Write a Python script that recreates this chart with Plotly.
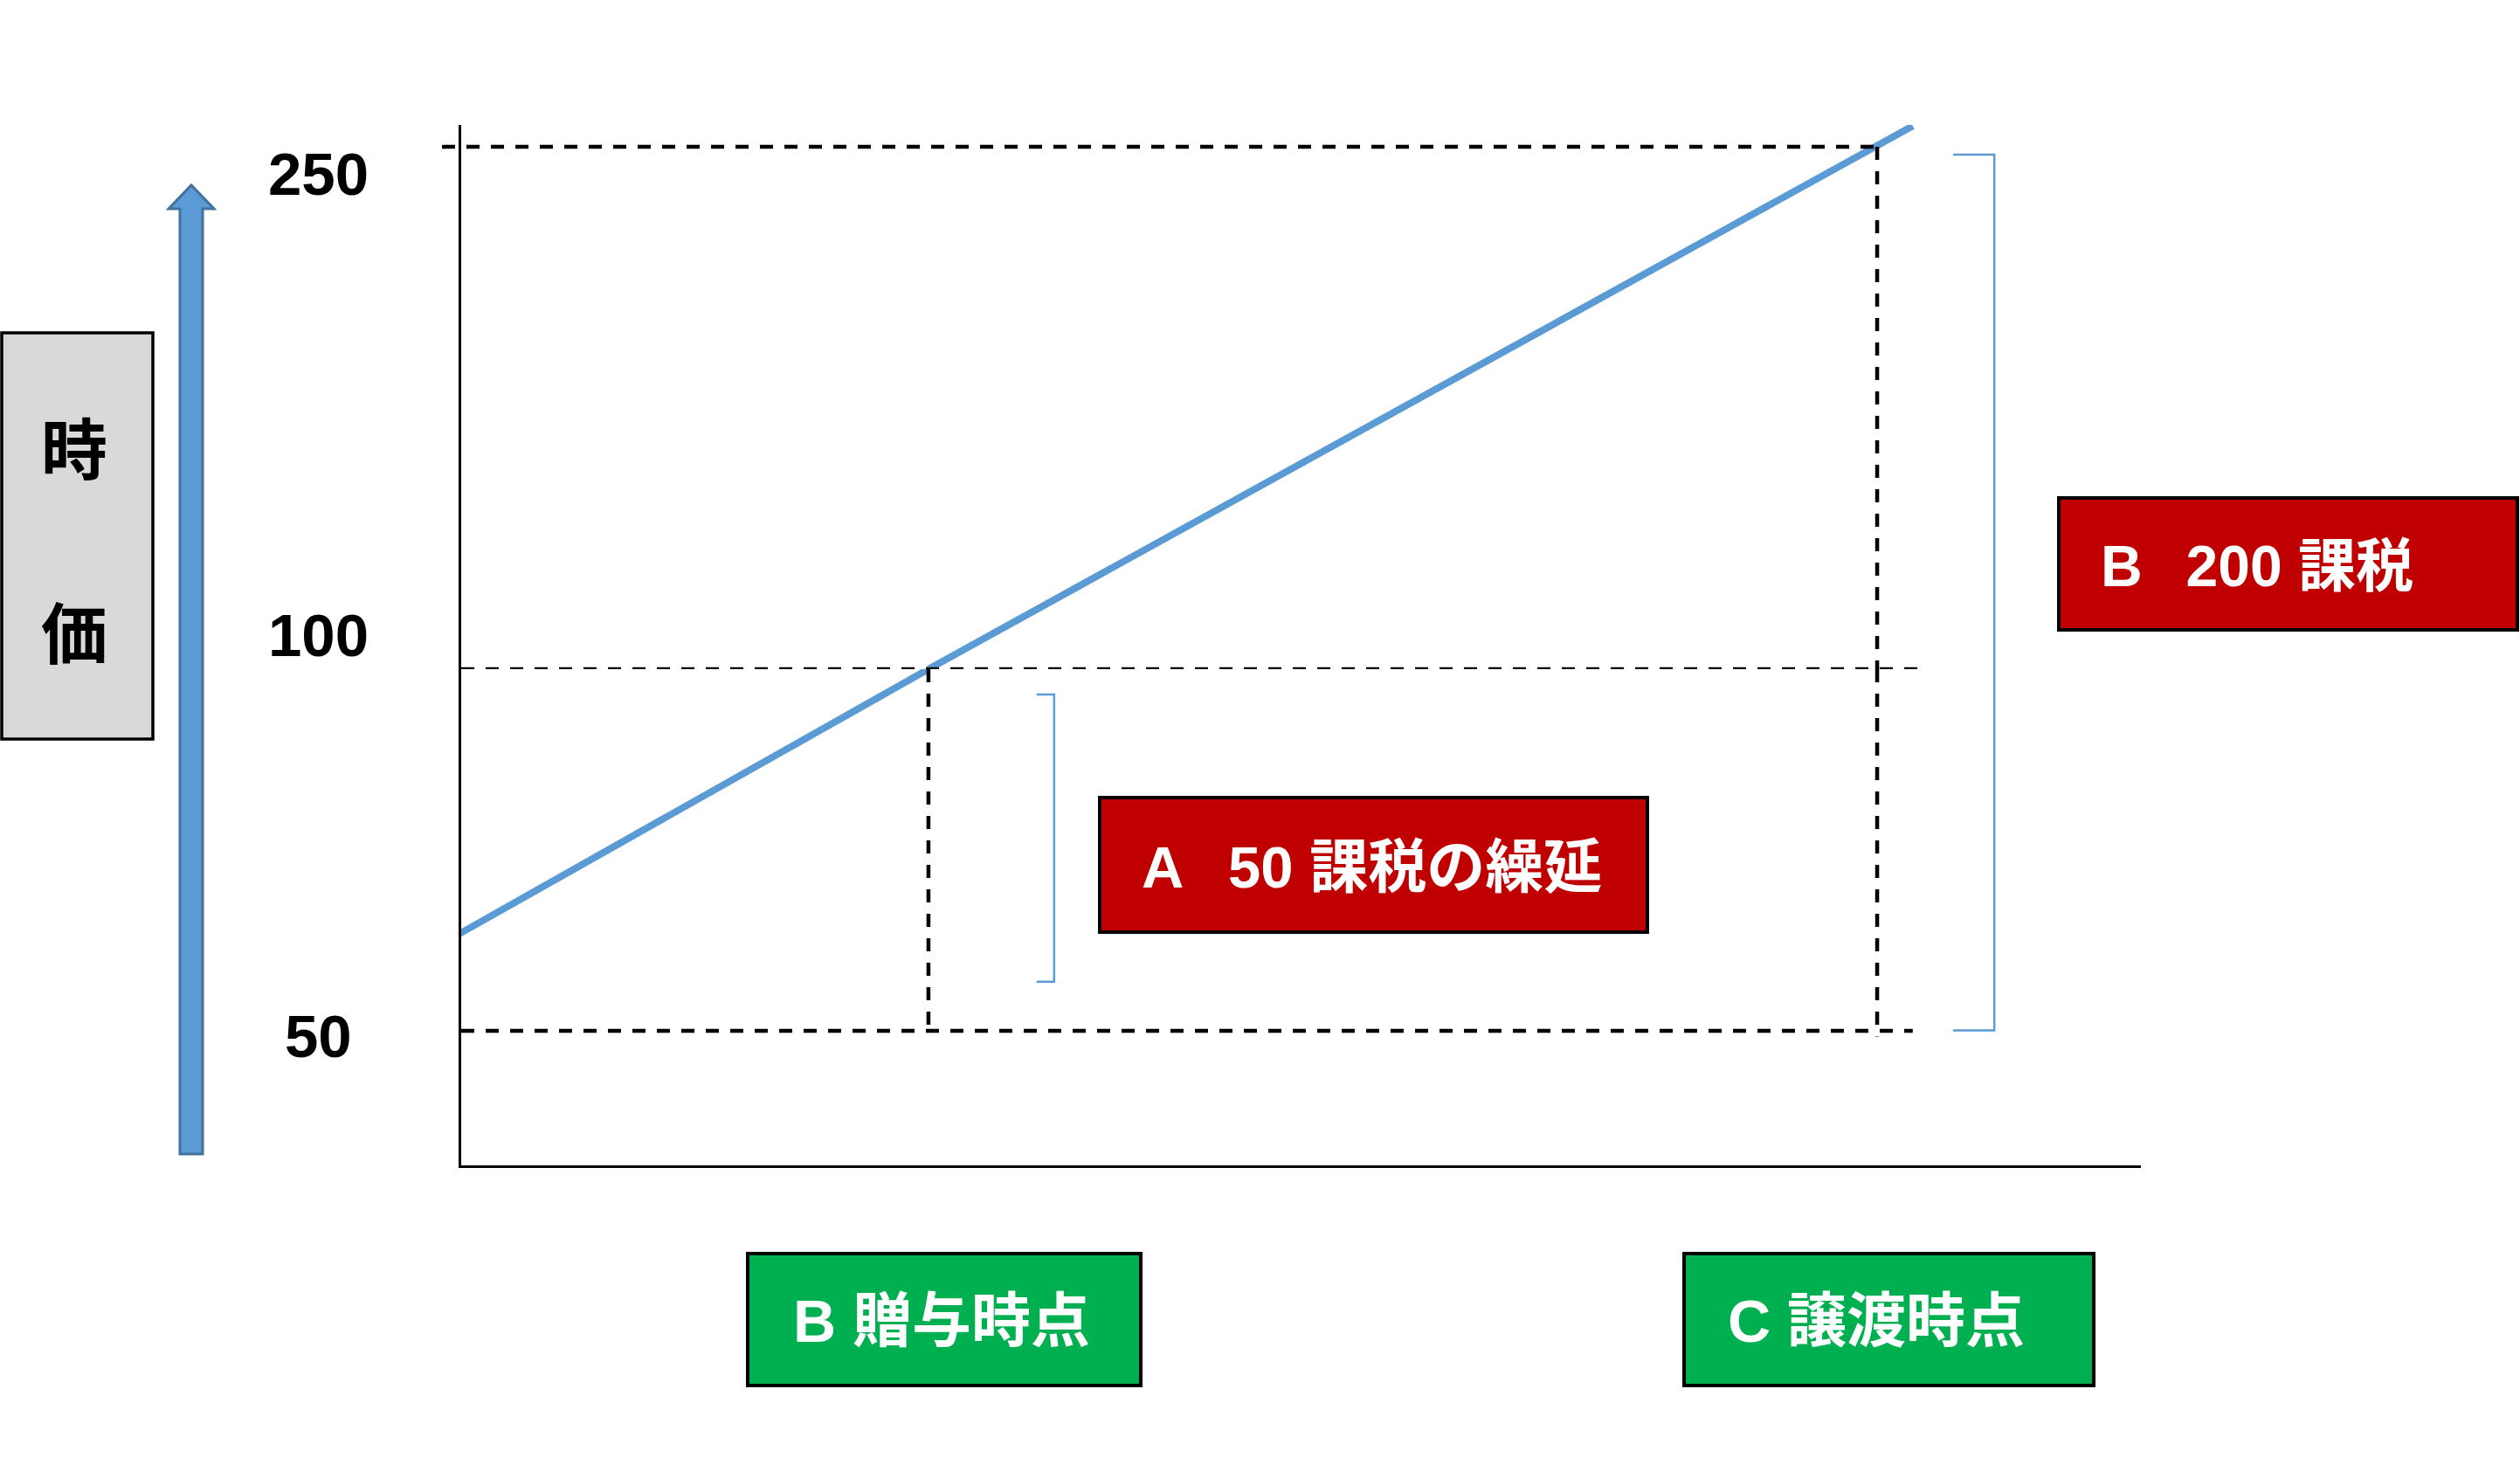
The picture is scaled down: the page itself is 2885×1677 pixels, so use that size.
import plotly.graph_objects as go

# ---------------- data ----------------
event_labels = ["B 贈与時点", "C 譲渡時点"]
event_t = [1, 3]                      # gift time, transfer time
level_values = [50, 100, 250]         # acquisition cost, value at gift, value at transfer
level_labels = ["50", "100", "250"]
line_t = [0, 1, 3, 3.075]             # market value line (time)
line_v = [63, 100, 250, 256]          # market value line (value)
axis_title_chars = ["時", "価"]
deferred_gain = level_values[1] - level_values[0]   # 50
taxed_gain = level_values[2] - level_values[0]      # 200
SP = "\u00a0\u00a0\u2009"
box_a_text = f"A{SP}{deferred_gain} 課税の繰延"
box_b_text = f"B{SP}{taxed_gain} 課税"

# ---------------- layout geometry ----------------
W, H = 2885, 1677
L, R, T, B = 528, 2451, 143, 1334      # plot area pixel edges
SPLIT = 766                             # pixel row of the 100 level (two linear scales)
d = (B - SPLIT) / (B - T)
x_range = [0.015, 3.556]
y_low_range = [31.4, 100]
y_up_range = [100, 256.3]

BLUE = "#5b9bd5"
RED = "#c00000"
GREEN = "#00b050"
GRAY = "#d9d9d9"
FONT = "Liberation Sans, Arial, Noto Sans CJK JP, sans-serif"


def PX(px):
    return (px - L) / (R - L)


def PY(py):
    return (B - py) / (B - T)


def TP(t):
    return (t - x_range[0]) / (x_range[1] - x_range[0])


split_v = level_values[1]
low_pts = [(t, v) for t, v in zip(line_t, line_v) if v <= split_v]
up_pts = [(t, v) for t, v in zip(line_t, line_v) if v >= split_v]

fig = go.Figure()
fig.add_trace(go.Scatter(x=[p[0] for p in low_pts], y=[p[1] for p in low_pts],
                         mode="lines", line=dict(color=BLUE, width=8),
                         xaxis="x", yaxis="y", hoverinfo="skip"))
fig.add_trace(go.Scatter(x=[p[0] for p in up_pts], y=[p[1] for p in up_pts],
                         mode="lines", line=dict(color=BLUE, width=8),
                         xaxis="x", yaxis="y2", hoverinfo="skip"))

dash = dict(color="black", width=4.5, dash="15px,13px")
shapes = []
gift_t, transfer_t = event_t
v50, v100, v250 = level_values
# horizontal dashed levels
shapes.append(dict(type="line", xref="paper", yref="y2", x0=PX(506), x1=TP(transfer_t + 0.01),
                   y0=v250, y1=v250, line=dash))
shapes.append(dict(type="line", xref="paper", yref="y2", x0=0, x1=TP(transfer_t + 0.09),
                   y0=v100, y1=v100, line=dash))
shapes.append(dict(type="line", xref="paper", yref="y", x0=0, x1=TP(transfer_t + 0.075),
                   y0=v50, y1=v50, line=dash))
# vertical dashed events
shapes.append(dict(type="line", xref="x", yref="y", x0=gift_t, x1=gift_t,
                   y0=v100, y1=v50, line=dash))
shapes.append(dict(type="line", xref="x", yref="y2", x0=transfer_t, x1=transfer_t,
                   y0=v250, y1=v100, line=dash))
shapes.append(dict(type="line", xref="x", yref="y", x0=transfer_t, x1=transfer_t,
                   y0=v100, y1=v50 - 0.8, line=dash))

# brackets
br = dict(color=BLUE, width=2.5)
ax0, ax1 = gift_t + 0.228, gift_t + 0.265
shapes.append(dict(type="path", xref="x", yref="y",
                   path=f"M {ax0},{v100-3.5} L {ax1},{v100-3.5} L {ax1},{v50+6.8} L {ax0},{v50+6.8}",
                   line=br))
bx0, bx1 = transfer_t + 0.16, transfer_t + 0.247
shapes.append(dict(type="path", xref="x", yref="y2",
                   path=f"M {bx0},{v250-2.2} L {bx1},{v250-2.2} L {bx1},{v100}",
                   line=br))
shapes.append(dict(type="path", xref="x", yref="y",
                   path=f"M {bx1},{v100} L {bx1},{v50+0.07} L {bx0},{v50+0.07}",
                   line=br))


def rect(x0, y0, x1, y1, fill, lw=4):
    return dict(type="rect", xref="paper", yref="paper", x0=PX(x0), x1=PX(x1),
                y0=PY(y1), y1=PY(y0), fillcolor=fill, line=dict(color="black", width=lw),
                layer="above")


# gray axis title box
shapes.append(rect(2, 381, 175, 846, GRAY, 3.5))
# arrow
pts = [(206, 1321), (206, 239), (193, 239), (219, 212), (245, 239), (232, 239), (232, 1321)]
path = "M " + " L ".join(f"{PX(x)},{PY(y)}" for x, y in pts) + " Z"
shapes.append(dict(type="path", xref="paper", yref="paper", path=path,
                   fillcolor=BLUE, line=dict(color="#41719c", width=3)))
# red boxes
shapes.append(rect(1259, 913, 1886, 1067, RED))
shapes.append(rect(2357, 570, 2882, 721, RED))
# green boxes
shapes.append(rect(856, 1435, 1306, 1586, GREEN))
shapes.append(rect(1928, 1435, 2397, 1586, GREEN))

ann = []
# tick labels
tick_pos = [("y", v50, -7), ("y2", v100, 39), ("y2", v250, -31)]
for lab, (yr, yv, ys) in zip(level_labels, tick_pos):
    ann.append(dict(text=lab, xref="paper", yref=yr, x=PX(364), y=yv, yshift=ys,
                    showarrow=False, xanchor="center", yanchor="middle",
                    font=dict(family=FONT, size=69, color="black", weight="bold")))
# 時価
for ch, py in zip(axis_title_chars, [510, 721]):
    ann.append(dict(text=ch, xref="paper", yref="paper", x=PX(85), y=PY(py),
                    showarrow=False, xanchor="center", yanchor="middle",
                    font=dict(family="Noto Sans CJK JP", size=76, color="black", weight="bold")))
# box texts
ann.append(dict(text=box_a_text, xref="paper", yref="paper", x=PX(1570), y=PY(992),
                showarrow=False, xanchor="center", yanchor="middle",
                font=dict(family=FONT, size=67, color="white", weight="bold")))
ann.append(dict(text=box_b_text, xref="paper", yref="paper", x=PX(2403), y=PY(648),
                showarrow=False, xanchor="left", yanchor="middle",
                font=dict(family=FONT, size=66, color="white", weight="bold")))
for lab, cx in zip(event_labels, [1078, 2148]):
    ann.append(dict(text=lab, xref="paper", yref="paper", x=PX(cx), y=PY(1512),
                    showarrow=False, xanchor="center", yanchor="middle",
                    font=dict(family=FONT, size=68, color="white", weight="bold")))

axis_common = dict(showgrid=False, zeroline=False, showticklabels=False, ticks="",
                   showline=True, linecolor="black", linewidth=3, fixedrange=True)
fig.update_layout(
    width=W, height=H,
    margin=dict(l=L, r=W - R, t=T, b=H - B, pad=0),
    paper_bgcolor="white", plot_bgcolor="white",
    showlegend=False,
    xaxis=dict(range=x_range, domain=[0, 1], anchor="y", **axis_common),
    yaxis=dict(range=y_low_range, domain=[0, d], anchor="x", **axis_common),
    yaxis2=dict(range=y_up_range, domain=[d, 1], anchor="x", **axis_common),
    shapes=shapes,
    annotations=ann,
)

fig.write_html("out.html", config={"displayModeBar": False},
               post_script="document.body.style.margin='0';document.body.style.overflow='hidden';")
